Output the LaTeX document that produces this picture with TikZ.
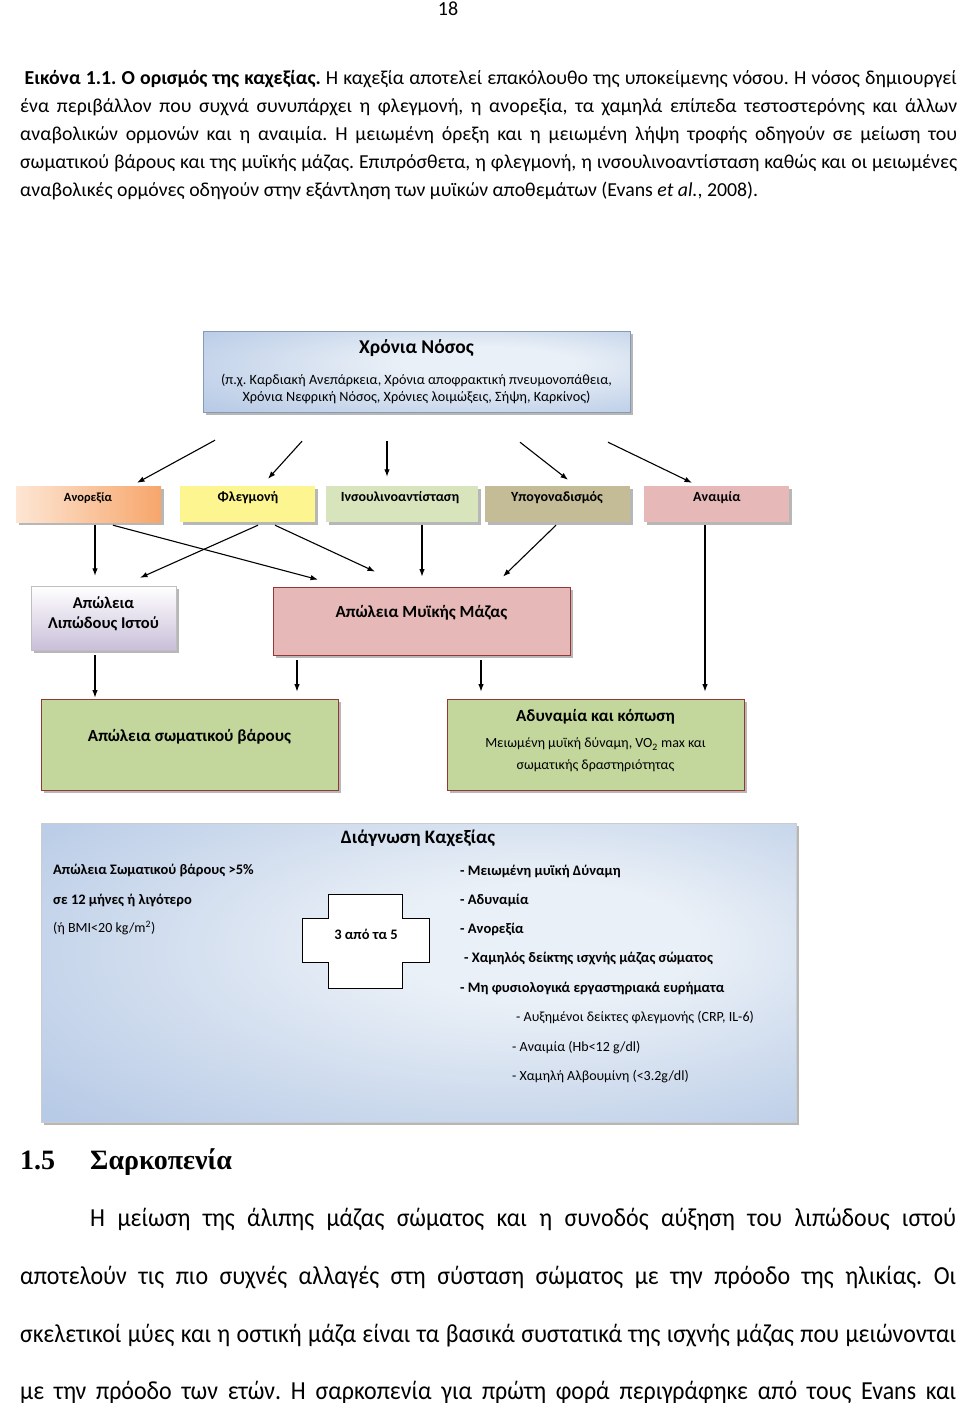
\documentclass[tikz,border=0pt]{standalone}
\usepackage{fontspec}
\setmainfont{Carlito}
\newfontfamily\headfont{Liberation Serif}
\newfontfamily\bodyfont[FakeStretch=0.92]{Carlito}
\frenchspacing
\usetikzlibrary{calc,shadows,arrows.meta}

\definecolor{nososL}{HTML}{A7C0DF}
\definecolor{diagB}{HTML}{94B1DA}
\definecolor{diagM}{HTML}{BBCDE7}
\definecolor{diagW}{HTML}{EAF0F7}
\definecolor{anorL}{HTML}{FDE6D4}
\definecolor{anorR}{HTML}{F7A66B}
\definecolor{flegC}{HTML}{FDF690}
\definecolor{insulC}{HTML}{D8E4BC}
\definecolor{hypoC}{HTML}{C4BC96}
\definecolor{pinkC}{HTML}{E6B9B8}
\definecolor{lavC}{HTML}{C9BFD9}
\definecolor{greenC}{HTML}{C3D69B}
\definecolor{brickC}{HTML}{953735}

\pgfdeclareradialshading{panelshade}{\pgfpoint{10bp}{6bp}}{color(0bp)=(diagW); color(10bp)=(diagW); color(36bp)=(diagM); color(62bp)=(diagB)}

\tikzset{
  captext/.style={anchor=base west, inner sep=0pt, font=\fontsize{19.8}{28}\selectfont},
  bodytext/.style={anchor=base west, inner sep=0pt, font=\bodyfont\fontsize{26}{30}\selectfont},
  shad/.style={drop shadow={shadow xshift=2.5pt, shadow yshift=-2.5pt, fill=black!40, opacity=.7}},
  rowbox/.style={shad, inner sep=0pt, minimum height=36pt},
  rowtext/.style={font=\bfseries\fontsize{14}{16}\selectfont, inner sep=0pt},
  bigbox/.style={shad, inner sep=0pt, draw=brickC, line width=.8pt},
  bigtext/.style={font=\bfseries\fontsize{17}{20}\selectfont, inner sep=0pt, align=center},
  panel/.style={shad, inner sep=0pt, draw=black!20, line width=.4pt, shading=panelshade},
  dtext/.style={anchor=base west, inner sep=0pt, font=\bfseries\fontsize{14.5}{16}\selectfont},
  dplain/.style={anchor=base west, inner sep=0pt, font=\fontsize{14}{16}\selectfont},
  arr/.style={->, line width=1.1pt}
}

\begin{document}
\begin{tikzpicture}[x=1pt,y=-1pt,>={Latex[length=7.5pt,width=5.5pt]}]
	\useasboundingbox (0,0) rectangle (960,1403);
	\fill[white] (0,0) rectangle (960,1403);

	% Page number
	\node[anchor=base, inner sep=0pt, font=\fontsize{20}{22}\selectfont] (pagenum) at (448,15) {18};

	% Caption of the figure
	\node[captext] (cap1) at (24.5,84) {\makebox[932pt][s]{\textbf{Εικόνα 1.1. Ο ορισμός της καχεξίας.} Η καχεξία αποτελεί επακόλουθο της υποκείμενης νόσου. Η νόσος δημιουργεί}};
	\node[captext] (cap2) at (20,112) {\makebox[937pt][s]{ένα περιβάλλον που συχνά συνυπάρχει η φλεγμονή, η ανορεξία, τα χαμηλά επίπεδα τεστοστερόνης και άλλων}};
	\node[captext] (cap3) at (20,140) {\makebox[937pt][s]{αναβολικών ορμονών και η αναιμία. Η μειωμένη όρεξη και η μειωμένη λήψη τροφής οδηγούν σε μείωση του}};
	\node[captext] (cap4) at (20,168) {\makebox[937pt][s]{σωματικού βάρους και της μυϊκής μάζας. Επιπρόσθετα, η φλεγμονή, η ινσουλινοαντίσταση καθώς και οι μειωμένες}};
	\node[captext] (cap5) at (20,196) {αναβολικές ορμόνες οδηγούν στην εξάντληση των μυϊκών αποθεμάτων (Evans \textit{et al.}, 2008).};

	% Draw the chronic disease box
	\node[panel, minimum width=427pt, minimum height=81pt, draw=nososL!80!black] (nosos) at (416.5,371.5) {};
	\node[inner sep=0pt, font=\bfseries\fontsize{19.5}{22}\selectfont] (nosos-t) at (416.5,348) {Χρόνια Νόσος};
	\node[inner sep=0pt, align=center, font=\fontsize{14.2}{17}\selectfont] (nosos-s) at (416.5,389)
	     {(π.χ. Καρδιακή Ανεπάρκεια, Χρόνια αποφρακτική πνευμονοπάθεια,\\Χρόνια Νεφρική Νόσος, Χρόνιες λοιμώξεις, Σήψη, Καρκίνος)};

	% Draw the row of mechanisms
	\node[rowbox, minimum width=145pt, left color=anorL, right color=anorR] (anor) at (88.5,504) {};
	\node[rowbox, minimum width=135pt, fill=flegC] (fleg) at (247.5,504) {};
	\node[rowbox, minimum width=152pt, fill=insulC] (insul) at (402,504) {};
	\node[rowbox, minimum width=145pt, fill=hypoC] (hypo) at (557.5,504) {};
	\node[rowbox, minimum width=145pt, fill=pinkC] (anaim) at (716.5,504) {};
	\node[rowtext, font=\bfseries\fontsize{12.5}{14}\selectfont] (anor-t) at (88,498) {Ανορεξία};
	\node[rowtext] (fleg-t) at (248,498) {Φλεγμονή};
	\node[rowtext] (insul-t) at (400,498) {Ινσουλινοαντίσταση};
	\node[rowtext] (hypo-t) at (557,498) {Υπογοναδισμός};
	\node[rowtext] (anaim-t) at (717,498) {Αναιμία};

	% Draw the losses
	\node[shad, inner sep=0pt, minimum width=145pt, minimum height=64pt, draw=black!25, line width=.4pt,
	      top color=white, bottom color=lavC] (lipos) at (103.5,618) {};
	\node[bigtext, font=\bfseries\fontsize{16.5}{20}\selectfont] (lipos-t) at (103.5,614) {Απώλεια\\Λιπώδους Ιστού};
	\node[bigbox, minimum width=297pt, minimum height=68pt, fill=pinkC] (mys) at (421.5,621) {};
	\node[bigtext] (mys-t) at (421.5,613) {Απώλεια Μυϊκής Μάζας};

	% Draw the outcomes
	\node[bigbox, minimum width=297pt, minimum height=91pt, fill=greenC] (baros) at (189.5,744.5) {};
	\node[bigtext] (baros-t) at (189.5,737) {Απώλεια σωματικού βάρους};
	\node[bigbox, minimum width=297pt, minimum height=91pt, fill=greenC] (adyn) at (595.5,744.5) {};
	\node[bigtext, font=\fontsize{14}{22}\selectfont] (adyn-t) at (595.5,741)
	     {{\bfseries\fontsize{17}{22}\selectfont Αδυναμία και κόπωση}\\[4pt]Μειωμένη μυϊκή δύναμη, VO\textsubscript{2} max και\\σωματικής δραστηριότητας};

	% Arrows from the disease to the mechanisms
	\draw[arr] ($(nosos.south)+(-201.5,28)$) -- ($(anor.north)+(48.5,-3)$);
	\draw[arr] ($(nosos.south)+(-114.5,29)$) -- ($(fleg.north)+(20.5,-7)$);
	\draw[arr] ($(nosos.south)+(-29.5,29)$) -- ($(insul.north)+(-15,-9)$);
	\draw[arr] ($(nosos.south)+(103.5,30)$) -- ($(hypo.north)+(10.5,-6)$);
	\draw[arr] ($(nosos.south)+(191.5,30)$) -- ($(anaim.north)+(-24.5,-3)$);

	% Arrows from the mechanisms to the losses
	\draw[arr] ($(anor.south)+(6.5,3)$) -- ($(lipos.north)+(-8.5,-10)$);
	\draw[arr] ($(anor.south)+(24.5,3)$) -- ($(mys.north)+(-103.5,-7)$);
	\draw[arr] ($(fleg.south)+(10.5,3)$) -- ($(lipos.north)+(36.5,-8)$);
	\draw[arr] ($(fleg.south)+(27.5,3)$) -- ($(mys.north)+(-46.5,-15)$);
	\draw[arr] ($(insul.south)+(20,3)$) -- ($(mys.north)+(0.5,-10)$);
	\draw[arr] ($(hypo.south)+(-1.5,3)$) -- ($(mys.north)+(81.5,-10)$);
	\draw[arr] ($(anaim.south)+(-11.5,3)$) -- ($(adyn.north)+(109.5,-7)$);

	% Arrows from the losses to the outcomes
	\draw[arr] ($(lipos.south)+(-8.5,5)$) -- ($(baros.north)+(-94.5,-1)$);
	\draw[arr] ($(mys.south)+(-124.5,5)$) -- ($(baros.north)+(107.5,-7)$);
	\draw[arr] ($(mys.south)+(59.5,5)$) -- ($(adyn.north)+(-114.5,-7)$);

	% Draw the diagnosis panel
	\node[panel, minimum width=755pt, minimum height=299pt] (diag) at (418.5,972.5) {};
	\node[anchor=base, inner sep=0pt, font=\bfseries\fontsize{19}{22}\selectfont] (diag-t) at (418,843) {Διάγνωση Καχεξίας};
	\node[dtext] (crit1) at (53,874.5) {Απώλεια Σωματικού βάρους >5\%};
	\node[dtext] (crit2) at (53,904.5) {σε 12 μήνες ή λιγότερο};
	\node[dplain] (crit3) at (53,932.5) {(ή BMI<20 kg/m\textsuperscript{2})};
	\draw[fill=white, line width=.8pt] (328,894) -- (402,894) -- (402,918) -- (429,918) -- (429,962) -- (402,962)
	      -- (402,988) -- (328,988) -- (328,962) -- (302,962) -- (302,918) -- (328,918) -- cycle;
	\node[inner sep=0pt, font=\bfseries\fontsize{14.5}{16}\selectfont] (three) at (366,934) {3 από τα 5};
	\node[dtext] (sym1) at (460,875.5) {- Μειωμένη μυϊκή Δύναμη};
	\node[dtext] (sym2) at (460,904.5) {- Αδυναμία};
	\node[dtext] (sym3) at (460,933.5) {- Ανορεξία};
	\node[dtext] (sym4) at (464,962.5) {- Χαμηλός δείκτης ισχνής μάζας σώματος};
	\node[dtext] (sym5) at (460,992.5) {- Μη φυσιολογικά εργαστηριακά ευρήματα};
	\node[dplain] (lab1) at (516,1021.5) {- Αυξημένοι δείκτες φλεγμονής (CRP, IL-6)};
	\node[dplain] (lab2) at (512,1051.5) {- Αναιμία (Hb<12 g/dl)};
	\node[dplain] (lab3) at (512,1080.5) {- Χαμηλή Αλβουμίνη (<3.2g/dl)};

	% Section heading
	\node[anchor=base west, inner sep=0pt, font=\headfont\bfseries\fontsize{28}{30}\selectfont] (secnum) at (20,1169) {1.5};
	\node[anchor=base west, inner sep=0pt, font=\headfont\bfseries\fontsize{28}{30}\selectfont] (sectitle) at (90,1169) {Σαρκοπενία};

	% Body text
	\node[bodytext] (body1) at (90,1226) {\makebox[866pt][s]{Η μείωση της άλιπης μάζας σώματος και η συνοδός αύξηση του λιπώδους ιστού}};
	\node[bodytext] (body2) at (20,1284) {\makebox[936pt][s]{αποτελούν τις πιο συχνές αλλαγές στη σύσταση σώματος με την πρόοδο της ηλικίας. Οι}};
	\node[bodytext] (body3) at (20,1342) {\makebox[936pt][s]{σκελετικοί μύες και η οστική μάζα είναι τα βασικά συστατικά της ισχνής μάζας που μειώνονται}};
	\node[bodytext] (body4) at (20,1399) {\makebox[936pt][s]{με την πρόοδο των ετών. Η σαρκοπενία για πρώτη φορά περιγράφηκε από τους Evans και}};

\end{tikzpicture}
\end{document}
